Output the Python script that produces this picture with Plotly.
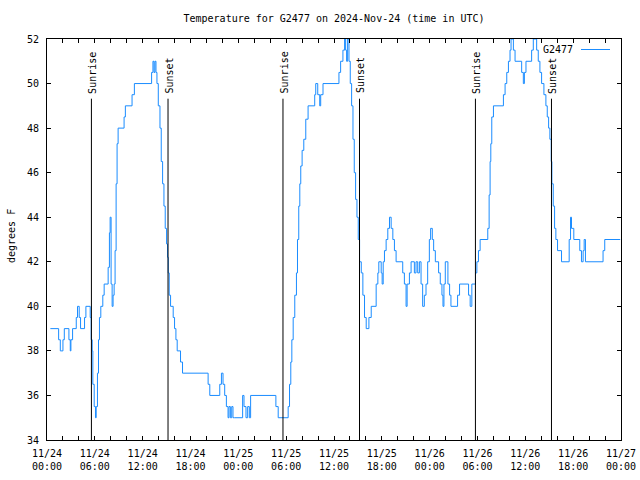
import plotly.graph_objects as go
import pandas as pd

start_time = "2024-11-24 00:00"

hours_since_start = [
    0.42, 1.46, 1.67, 2.0, 2.17, 2.75, 2.92, 3.0, 3.21, 3.67, 3.83, 4.04, 4.21, 4.71, 4.88,
    5.42, 5.54, 5.67, 5.75, 5.92, 6.08, 6.17, 6.33, 6.46, 6.58, 6.75, 7.0, 7.17, 7.67, 7.83,
    7.92, 8.04, 8.17, 8.29, 8.42, 8.54, 8.67, 8.79, 8.92, 9.67, 9.83, 10.67, 10.96, 13.12,
    13.29, 13.42, 13.54, 13.67, 13.79, 13.96, 14.17, 14.33, 14.5, 14.67, 14.83, 15.0, 15.12,
    15.21, 15.33, 15.5, 15.83, 16.0, 16.17, 16.33, 16.75, 17.0, 20.21, 20.42, 21.67, 21.88,
    22.08, 22.29, 22.5, 22.71, 22.83, 23.0, 23.17, 23.33,
    23.5, 24.54, 24.71, 24.96, 25.17, 25.38, 25.54, 28.71, 29.0, 30.25, 30.42, 30.58, 30.71,
    30.88, 31.08, 31.29, 31.42, 31.58, 31.71, 31.83, 32.0, 32.21, 32.46, 32.75, 33.58, 33.71,
    33.96, 34.21, 34.33, 34.62, 36.62, 36.83, 37.12, 37.33, 37.46, 37.58, 37.71, 37.88, 38.04,
    38.21, 38.38, 38.54, 38.71, 38.88, 39.04, 39.21, 39.42, 39.62, 39.83, 40.04, 40.38, 40.67,
    41.29, 41.5, 41.62, 41.92, 42.04, 42.17, 42.33, 42.54, 42.75, 42.96, 43.17, 43.38, 43.58,
    43.79, 44.62, 44.83, 45.04, 45.17, 45.46, 45.67, 46.08, 46.29, 46.5, 46.71, 46.92, 47.12,
    47.33, 47.54, 47.75,
    47.96, 48.12, 48.33, 48.5, 48.71, 49.12, 49.33, 49.54, 49.67, 49.79, 49.96, 50.29, 50.5,
    50.67, 51.5, 51.75, 52.88, 53.08, 53.29, 53.75, 53.92, 54.12, 54.33, 55.29, 55.46, 55.58,
    55.67, 55.79, 56.0, 57.25, 57.46, 57.67, 57.88, 58.08, 58.21, 58.5, 58.71, 59.54, 59.75,
    59.88, 60.08, 60.79, 61.0, 61.42, 61.62, 61.83, 62.04, 62.33, 62.58, 62.75, 62.92, 63.08,
    63.25, 63.33, 63.5, 63.67, 63.83, 64.04, 64.54, 65.5, 65.67, 65.79, 66.08, 66.83, 67.04,
    67.25, 67.38, 67.54, 69.75, 69.96, 71.9,
]

temps_f = [
    39, 38.5, 38, 38.5, 39, 38.5, 38, 38.5, 39, 39.5, 40, 39.5, 39, 39.5, 40,
    39.5, 38.5, 38, 36.5, 35.5, 35, 35.5, 37, 38.5, 39.5, 40, 40.5, 41, 41.75, 43.3,
    44, 41, 40, 40.5, 41, 42.5, 45.5, 47.3, 48, 48.5, 49, 49.5, 50, 50.5,
    51, 50.5, 51, 50.5, 50, 49, 48, 46.5, 45.5, 44.5, 43.5, 42.8, 42.2,
    41.5, 40.5, 40, 39.5, 39, 38.5, 38, 37.5, 37, 36.5, 36, 36.5, 37,
    36.5, 36, 35.5, 35, 35.5, 35, 35.5, 35,
    35, 36, 35.5, 35, 35.5, 35, 36, 35.5, 35, 35.5, 36.5, 37.5, 38.5,
    39.5, 40.5, 41.5, 43, 44.5, 45.5, 46.3, 47, 47.5, 48.4, 49, 49.5, 50,
    49.5, 49, 49.5, 50, 50.5, 51, 51.5, 52, 51.5, 51, 52, 51, 50,
    49, 47.5, 46, 44.8, 44, 43, 42, 41.5, 40.5, 39.5, 39, 39.5, 40,
    41, 41.5, 42, 41.5, 41, 42, 42.5, 43, 43.5, 44, 43.5, 43, 42.5,
    42, 41.5, 41, 40, 41, 41.5, 42, 41.5, 42, 41.5, 42, 41, 40,
    40.5, 41, 42,
    43, 43.5, 43, 42.5, 42, 41.5, 41, 40.5, 40, 41, 42, 41, 40.5,
    40, 40.5, 41, 40.5, 40, 41, 41.5, 42, 42.5, 43, 43.5, 45, 46.5,
    47.3, 48.5, 49, 49.5, 50, 50.5, 51, 51.5, 52, 51.5, 51, 50.5, 50,
    50.5, 51, 51.5, 52, 51.5, 51, 50.5, 50, 49.5, 49, 48.5, 48, 47.5,
    46.5, 45.5, 44.5, 43.5, 43, 42.5, 42, 43, 44, 43.5, 43, 42.5, 42,
    42.5, 43, 42, 42.5, 43, 43,
]

sunrise_hours = [5.57, 29.6, 53.74]
sunset_hours = [15.18, 39.2, 63.28]

x_tick_hours = [0, 2, 4, 6, 8, 10, 12, 14, 16, 18, 20, 22, 24, 26, 28, 30, 32, 34, 36,
                38, 40, 42, 44, 46, 48, 50, 52, 54, 56, 58, 60, 62, 64, 66, 68, 70, 72]
x_major_labels = {
    0: "11/24<br>00:00", 6: "11/24<br>06:00", 12: "11/24<br>12:00", 18: "11/24<br>18:00",
    24: "11/25<br>00:00", 30: "11/25<br>06:00", 36: "11/25<br>12:00", 42: "11/25<br>18:00",
    48: "11/26<br>00:00", 54: "11/26<br>06:00", 60: "11/26<br>12:00", 66: "11/26<br>18:00",
    72: "11/27<br>00:00",
}
y_ticks = [34, 36, 38, 40, 42, 44, 46, 48, 50, 52]

series_name = "G2477"
title_text = "Temperature for G2477 on 2024-Nov-24 (time in UTC)"
y_title = "degrees F"

base = pd.Timestamp(start_time)
to_time = lambda h: base + pd.Timedelta(hours=h)
times = [to_time(h) for h in hours_since_start]

FONT = "DejaVu Sans Mono"
BLUE = "#1a8cff"

fig = go.Figure()
fig.add_trace(go.Scatter(x=times, y=temps_f, mode="lines", line=dict(color=BLUE, width=1, shape="hv"),
                         name=series_name, showlegend=False, hoverinfo="skip"))

for label, hours in (("Sunrise", sunrise_hours), ("Sunset", sunset_hours)):
    for h in hours:
        fig.add_shape(type="line", xref="x", yref="y", x0=to_time(h), x1=to_time(h), y0=34, y1=49.32,
                      line=dict(color="black", width=1))
        fig.add_annotation(x=to_time(h), y=49.6, xref="x", yref="y", text=label, textangle=-90,
                           showarrow=False, xanchor="center", yanchor="bottom", xshift=1, yshift=-3,
                           font=dict(family=FONT, size=10, color="black"))

# legend (gnuplot style: text then sample line)
fig.add_annotation(xref="paper", yref="paper", x=(575 - 47) / 574, y=(440 - 50) / 401,
                   text=series_name, showarrow=False, xanchor="right", yanchor="middle",
                   font=dict(family=FONT, size=10, color="black"))
fig.add_shape(type="line", xref="paper", yref="paper", x0=(581 - 47) / 574, x1=(610 - 47) / 574,
              y0=(440 - 49.5) / 401, y1=(440 - 49.5) / 401, line=dict(color=BLUE, width=1))

# y axis title
fig.add_annotation(xref="paper", yref="paper", x=(11 - 47) / 574, y=(440 - 236) / 401, text=y_title,
                   textangle=-90, showarrow=False, xanchor="center", yanchor="middle",
                   font=dict(family=FONT, size=10, color="black"))

fig.update_layout(
    width=640, height=480,
    margin=dict(l=47, r=19, t=39, b=40, autoexpand=False),
    plot_bgcolor="white", paper_bgcolor="white",
    font=dict(family=FONT, size=10, color="black"),
    showlegend=False,
    hovermode=False,
    title=dict(text=title_text, x=0.5, xref="paper", xanchor="center", y=1 - 18 / 480,
               yref="container", yanchor="middle", font=dict(family=FONT, size=10, color="black")),
)
fig.update_xaxes(
    type="date", range=[to_time(0), to_time(72)], automargin=False,
    tickmode="array", tickvals=[to_time(h) for h in x_tick_hours],
    ticktext=[x_major_labels.get(h, "") for h in x_tick_hours],
    ticks="inside", ticklen=4, tickcolor="black", tickwidth=1, ticklabelstandoff=4,
    showline=True, linecolor="black", linewidth=1, mirror="ticks",
    showgrid=False, zeroline=False,
)
fig.update_yaxes(
    range=[34, 52], tickmode="array", tickvals=y_ticks, automargin=False,
    ticks="inside", ticklen=4, tickcolor="black", tickwidth=1, ticklabelstandoff=5,
    showline=True, linecolor="black", linewidth=1, mirror="ticks",
    showgrid=False, zeroline=False,
)

fig.write_html("out.html", config={"displayModeBar": False},
               post_script="document.body.style.margin='0px';")
